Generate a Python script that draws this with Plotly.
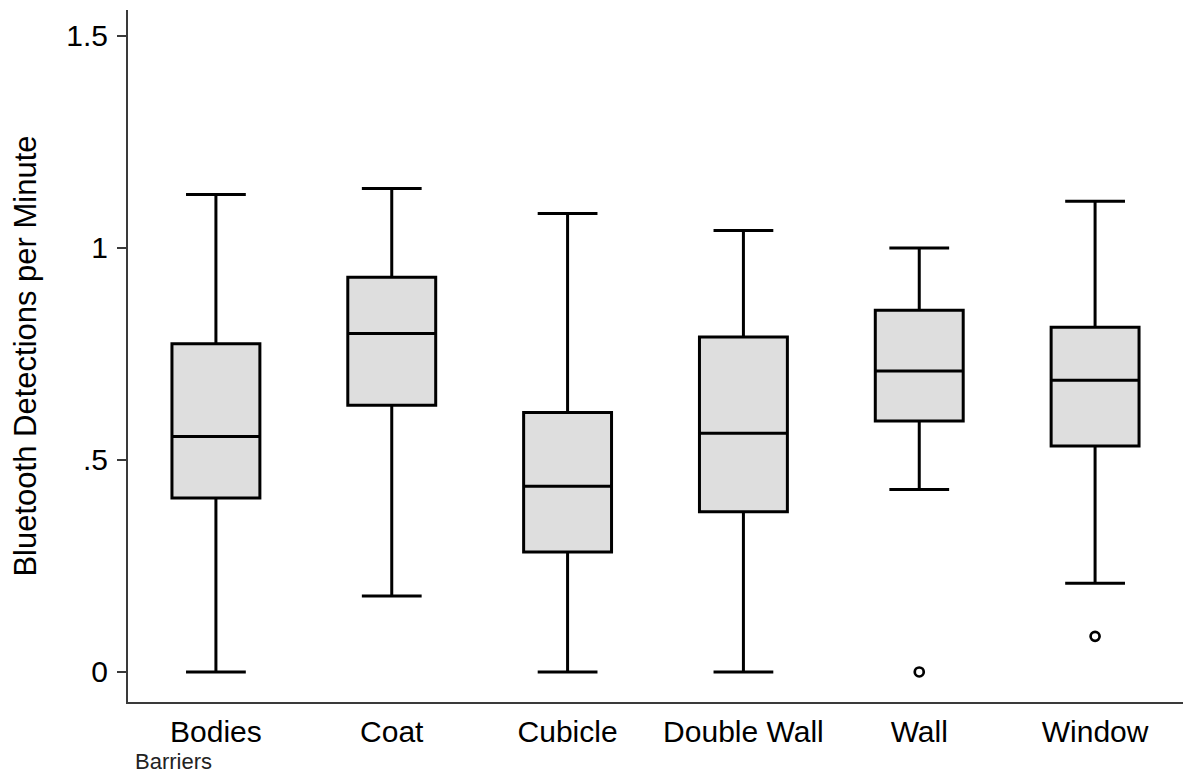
import plotly.graph_objects as go

# Summary statistics per barrier type (Bluetooth detections per minute)
barriers = ["Bodies", "Coat", "Cubicle", "Double Wall", "Wall", "Window"]
lower_whisker = [0.0, 0.179, 0.0, 0.0, 0.430, 0.209]
q1 = [0.410, 0.629, 0.283, 0.378, 0.592, 0.533]
median = [0.555, 0.798, 0.438, 0.563, 0.710, 0.688]
q3 = [0.774, 0.931, 0.612, 0.790, 0.853, 0.813]
upper_whisker = [1.126, 1.140, 1.081, 1.041, 1.000, 1.110]

# Outlying observations
outlier_barrier = ["Wall", "Window"]
outlier_value = [0.0, 0.084]

y_ticks = [0, 0.5, 1, 1.5]
y_tick_labels = ["0", ".5", "1", "1.5"]

FONT = "Liberation Sans, Arial, sans-serif"
AXIS_COLOR = "#3a3a3a"

fig = go.Figure()

fig.add_trace(go.Box(
    x=barriers,
    q1=q1,
    median=median,
    q3=q3,
    lowerfence=lower_whisker,
    upperfence=upper_whisker,
    boxpoints=False,
    width=0.5,
    whiskerwidth=0.68,
    fillcolor="#dedede",
    line=dict(color="black", width=3),
    showlegend=False,
    hoverinfo="skip",
))

fig.add_trace(go.Scatter(
    x=outlier_barrier,
    y=outlier_value,
    mode="markers",
    marker=dict(symbol="circle-open", size=9, color="black",
                line=dict(color="black", width=2.7)),
    showlegend=False,
    hoverinfo="skip",
))

fig.update_layout(
    width=1183,
    height=778,
    margin=dict(l=128, r=0, t=10, b=76, autoexpand=False),
    paper_bgcolor="white",
    plot_bgcolor="white",
    font=dict(family=FONT, color="black", size=30),
    xaxis=dict(
        type="category",
        categoryorder="array",
        categoryarray=barriers,
        range=[-0.5, 5.5],
        showline=True,
        linecolor=AXIS_COLOR,
        linewidth=2,
        ticks="",
        showgrid=False,
        zeroline=False,
        tickfont=dict(family=FONT, size=30, color="black"),
        ticklabelstandoff=2,
        automargin=False,
    ),
    yaxis=dict(
        range=[-0.0708, 1.561],
        tickvals=y_ticks,
        ticktext=y_tick_labels,
        showline=True,
        linecolor=AXIS_COLOR,
        linewidth=2,
        ticks="outside",
        ticklen=9,
        tickwidth=2,
        tickcolor=AXIS_COLOR,
        showgrid=False,
        zeroline=False,
        tickfont=dict(family=FONT, size=30, color="black"),
        ticklabelstandoff=3,
        title=dict(text="Bluetooth Detections per Minute",
                   font=dict(family=FONT, size=31, color="black"),
                   standoff=20),
        automargin=False,
    ),
    annotations=[dict(
        text="Barriers",
        xref="paper", yref="paper",
        x=0, y=0,
        xanchor="left", yanchor="middle",
        xshift=5, yshift=-59,
        showarrow=False,
        font=dict(family=FONT, size=22, color="#222222"),
    )],
)

fig.write_html("out.html")
